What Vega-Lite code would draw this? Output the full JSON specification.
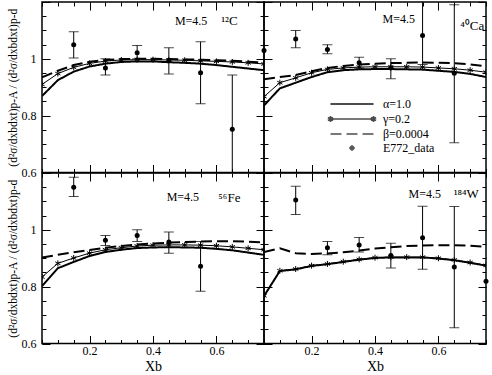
{
"$schema": "https://vega.github.io/schema/vega-lite/v6.json",
"background": "white",
"padding": {"left": 6, "top": 0, "right": 0, "bottom": 0},
"bounds": "flush",
"spacing": 0,
"columns": 2,
"resolve": {"scale": {"shape": "independent", "strokeWidth": "independent", "strokeDash": "independent"}, "legend": {"shape": "independent", "strokeWidth": "independent", "strokeDash": "independent"}},
"datasets": {
"curves": [
{"nucleus":"12C","series":"α","x":0.05,"ratio":0.869},{"nucleus":"12C","series":"α","x":0.1,"ratio":0.925},{"nucleus":"12C","series":"α","x":0.15,"ratio":0.955},{"nucleus":"12C","series":"α","x":0.2,"ratio":0.973},{"nucleus":"12C","series":"α","x":0.25,"ratio":0.983},{"nucleus":"12C","series":"α","x":0.3,"ratio":0.989},{"nucleus":"12C","series":"α","x":0.35,"ratio":0.991},{"nucleus":"12C","series":"α","x":0.4,"ratio":0.991},{"nucleus":"12C","series":"α","x":0.45,"ratio":0.988},{"nucleus":"12C","series":"α","x":0.5,"ratio":0.986},{"nucleus":"12C","series":"α","x":0.55,"ratio":0.983},{"nucleus":"12C","series":"α","x":0.6,"ratio":0.978},{"nucleus":"12C","series":"α","x":0.65,"ratio":0.972},{"nucleus":"12C","series":"α","x":0.7,"ratio":0.966},{"nucleus":"12C","series":"α","x":0.75,"ratio":0.96},
{"nucleus":"12C","series":"γ","x":0.05,"ratio":0.91},{"nucleus":"12C","series":"γ","x":0.1,"ratio":0.948},{"nucleus":"12C","series":"γ","x":0.15,"ratio":0.97},{"nucleus":"12C","series":"γ","x":0.2,"ratio":0.984},{"nucleus":"12C","series":"γ","x":0.25,"ratio":0.992},{"nucleus":"12C","series":"γ","x":0.3,"ratio":0.996},{"nucleus":"12C","series":"γ","x":0.35,"ratio":0.997},{"nucleus":"12C","series":"γ","x":0.4,"ratio":0.997},{"nucleus":"12C","series":"γ","x":0.45,"ratio":0.996},{"nucleus":"12C","series":"γ","x":0.5,"ratio":0.995},{"nucleus":"12C","series":"γ","x":0.55,"ratio":0.993},{"nucleus":"12C","series":"γ","x":0.6,"ratio":0.991},{"nucleus":"12C","series":"γ","x":0.65,"ratio":0.989},{"nucleus":"12C","series":"γ","x":0.7,"ratio":0.986},{"nucleus":"12C","series":"γ","x":0.75,"ratio":0.982},
{"nucleus":"12C","series":"β","x":0.05,"ratio":0.935},{"nucleus":"12C","series":"β","x":0.1,"ratio":0.958},{"nucleus":"12C","series":"β","x":0.15,"ratio":0.978},{"nucleus":"12C","series":"β","x":0.2,"ratio":0.99},{"nucleus":"12C","series":"β","x":0.25,"ratio":0.996},{"nucleus":"12C","series":"β","x":0.3,"ratio":0.999},{"nucleus":"12C","series":"β","x":0.35,"ratio":1.0},{"nucleus":"12C","series":"β","x":0.4,"ratio":1.0},{"nucleus":"12C","series":"β","x":0.45,"ratio":0.999},{"nucleus":"12C","series":"β","x":0.5,"ratio":0.998},{"nucleus":"12C","series":"β","x":0.55,"ratio":0.997},{"nucleus":"12C","series":"β","x":0.6,"ratio":0.995},{"nucleus":"12C","series":"β","x":0.65,"ratio":0.993},{"nucleus":"12C","series":"β","x":0.7,"ratio":0.99},{"nucleus":"12C","series":"β","x":0.75,"ratio":0.987},
{"nucleus":"40Ca","series":"α","x":0.05,"ratio":0.836},{"nucleus":"40Ca","series":"α","x":0.1,"ratio":0.896},{"nucleus":"40Ca","series":"α","x":0.15,"ratio":0.916},{"nucleus":"40Ca","series":"α","x":0.2,"ratio":0.936},{"nucleus":"40Ca","series":"α","x":0.25,"ratio":0.953},{"nucleus":"40Ca","series":"α","x":0.3,"ratio":0.96},{"nucleus":"40Ca","series":"α","x":0.35,"ratio":0.963},{"nucleus":"40Ca","series":"α","x":0.4,"ratio":0.964},{"nucleus":"40Ca","series":"α","x":0.45,"ratio":0.964},{"nucleus":"40Ca","series":"α","x":0.5,"ratio":0.963},{"nucleus":"40Ca","series":"α","x":0.55,"ratio":0.962},{"nucleus":"40Ca","series":"α","x":0.6,"ratio":0.958},{"nucleus":"40Ca","series":"α","x":0.65,"ratio":0.954},{"nucleus":"40Ca","series":"α","x":0.7,"ratio":0.947},{"nucleus":"40Ca","series":"α","x":0.75,"ratio":0.936},
{"nucleus":"40Ca","series":"γ","x":0.05,"ratio":0.867},{"nucleus":"40Ca","series":"γ","x":0.1,"ratio":0.916},{"nucleus":"40Ca","series":"γ","x":0.15,"ratio":0.933},{"nucleus":"40Ca","series":"γ","x":0.2,"ratio":0.951},{"nucleus":"40Ca","series":"γ","x":0.25,"ratio":0.963},{"nucleus":"40Ca","series":"γ","x":0.3,"ratio":0.968},{"nucleus":"40Ca","series":"γ","x":0.35,"ratio":0.971},{"nucleus":"40Ca","series":"γ","x":0.4,"ratio":0.972},{"nucleus":"40Ca","series":"γ","x":0.45,"ratio":0.972},{"nucleus":"40Ca","series":"γ","x":0.5,"ratio":0.972},{"nucleus":"40Ca","series":"γ","x":0.55,"ratio":0.971},{"nucleus":"40Ca","series":"γ","x":0.6,"ratio":0.968},{"nucleus":"40Ca","series":"γ","x":0.65,"ratio":0.965},{"nucleus":"40Ca","series":"γ","x":0.7,"ratio":0.96},{"nucleus":"40Ca","series":"γ","x":0.75,"ratio":0.953},
{"nucleus":"40Ca","series":"β","x":0.05,"ratio":0.928},{"nucleus":"40Ca","series":"β","x":0.1,"ratio":0.936},{"nucleus":"40Ca","series":"β","x":0.15,"ratio":0.943},{"nucleus":"40Ca","series":"β","x":0.2,"ratio":0.956},{"nucleus":"40Ca","series":"β","x":0.25,"ratio":0.968},{"nucleus":"40Ca","series":"β","x":0.3,"ratio":0.975},{"nucleus":"40Ca","series":"β","x":0.35,"ratio":0.98},{"nucleus":"40Ca","series":"β","x":0.4,"ratio":0.983},{"nucleus":"40Ca","series":"β","x":0.45,"ratio":0.985},{"nucleus":"40Ca","series":"β","x":0.5,"ratio":0.986},{"nucleus":"40Ca","series":"β","x":0.55,"ratio":0.987},{"nucleus":"40Ca","series":"β","x":0.6,"ratio":0.986},{"nucleus":"40Ca","series":"β","x":0.65,"ratio":0.985},{"nucleus":"40Ca","series":"β","x":0.7,"ratio":0.98},{"nucleus":"40Ca","series":"β","x":0.75,"ratio":0.974},
{"nucleus":"56Fe","series":"α","x":0.05,"ratio":0.802},{"nucleus":"56Fe","series":"α","x":0.1,"ratio":0.865},{"nucleus":"56Fe","series":"α","x":0.15,"ratio":0.887},{"nucleus":"56Fe","series":"α","x":0.2,"ratio":0.908},{"nucleus":"56Fe","series":"α","x":0.25,"ratio":0.922},{"nucleus":"56Fe","series":"α","x":0.3,"ratio":0.93},{"nucleus":"56Fe","series":"α","x":0.35,"ratio":0.936},{"nucleus":"56Fe","series":"α","x":0.4,"ratio":0.938},{"nucleus":"56Fe","series":"α","x":0.45,"ratio":0.939},{"nucleus":"56Fe","series":"α","x":0.5,"ratio":0.938},{"nucleus":"56Fe","series":"α","x":0.55,"ratio":0.937},{"nucleus":"56Fe","series":"α","x":0.6,"ratio":0.933},{"nucleus":"56Fe","series":"α","x":0.65,"ratio":0.928},{"nucleus":"56Fe","series":"α","x":0.7,"ratio":0.92},{"nucleus":"56Fe","series":"α","x":0.75,"ratio":0.912},
{"nucleus":"56Fe","series":"γ","x":0.05,"ratio":0.834},{"nucleus":"56Fe","series":"γ","x":0.1,"ratio":0.882},{"nucleus":"56Fe","series":"γ","x":0.15,"ratio":0.901},{"nucleus":"56Fe","series":"γ","x":0.2,"ratio":0.918},{"nucleus":"56Fe","series":"γ","x":0.25,"ratio":0.93},{"nucleus":"56Fe","series":"γ","x":0.3,"ratio":0.937},{"nucleus":"56Fe","series":"γ","x":0.35,"ratio":0.943},{"nucleus":"56Fe","series":"γ","x":0.4,"ratio":0.946},{"nucleus":"56Fe","series":"γ","x":0.45,"ratio":0.947},{"nucleus":"56Fe","series":"γ","x":0.5,"ratio":0.947},{"nucleus":"56Fe","series":"γ","x":0.55,"ratio":0.946},{"nucleus":"56Fe","series":"γ","x":0.6,"ratio":0.944},{"nucleus":"56Fe","series":"γ","x":0.65,"ratio":0.94},{"nucleus":"56Fe","series":"γ","x":0.7,"ratio":0.935},{"nucleus":"56Fe","series":"γ","x":0.75,"ratio":0.93},
{"nucleus":"56Fe","series":"β","x":0.05,"ratio":0.903},{"nucleus":"56Fe","series":"β","x":0.1,"ratio":0.912},{"nucleus":"56Fe","series":"β","x":0.15,"ratio":0.921},{"nucleus":"56Fe","series":"β","x":0.2,"ratio":0.929},{"nucleus":"56Fe","series":"β","x":0.25,"ratio":0.937},{"nucleus":"56Fe","series":"β","x":0.3,"ratio":0.943},{"nucleus":"56Fe","series":"β","x":0.35,"ratio":0.948},{"nucleus":"56Fe","series":"β","x":0.4,"ratio":0.952},{"nucleus":"56Fe","series":"β","x":0.45,"ratio":0.955},{"nucleus":"56Fe","series":"β","x":0.5,"ratio":0.957},{"nucleus":"56Fe","series":"β","x":0.55,"ratio":0.959},{"nucleus":"56Fe","series":"β","x":0.6,"ratio":0.96},{"nucleus":"56Fe","series":"β","x":0.65,"ratio":0.96},{"nucleus":"56Fe","series":"β","x":0.7,"ratio":0.958},{"nucleus":"56Fe","series":"β","x":0.75,"ratio":0.956},
{"nucleus":"184W","series":"α","x":0.05,"ratio":0.767},{"nucleus":"184W","series":"α","x":0.1,"ratio":0.855},{"nucleus":"184W","series":"α","x":0.15,"ratio":0.861},{"nucleus":"184W","series":"α","x":0.2,"ratio":0.873},{"nucleus":"184W","series":"α","x":0.25,"ratio":0.879},{"nucleus":"184W","series":"α","x":0.3,"ratio":0.887},{"nucleus":"184W","series":"α","x":0.35,"ratio":0.895},{"nucleus":"184W","series":"α","x":0.4,"ratio":0.901},{"nucleus":"184W","series":"α","x":0.45,"ratio":0.903},{"nucleus":"184W","series":"α","x":0.5,"ratio":0.903},{"nucleus":"184W","series":"α","x":0.55,"ratio":0.903},{"nucleus":"184W","series":"α","x":0.6,"ratio":0.899},{"nucleus":"184W","series":"α","x":0.65,"ratio":0.893},{"nucleus":"184W","series":"α","x":0.7,"ratio":0.884},{"nucleus":"184W","series":"α","x":0.75,"ratio":0.874},
{"nucleus":"184W","series":"γ","x":0.05,"ratio":0.768},{"nucleus":"184W","series":"γ","x":0.1,"ratio":0.856},{"nucleus":"184W","series":"γ","x":0.15,"ratio":0.862},{"nucleus":"184W","series":"γ","x":0.2,"ratio":0.874},{"nucleus":"184W","series":"γ","x":0.25,"ratio":0.88},{"nucleus":"184W","series":"γ","x":0.3,"ratio":0.888},{"nucleus":"184W","series":"γ","x":0.35,"ratio":0.896},{"nucleus":"184W","series":"γ","x":0.4,"ratio":0.902},{"nucleus":"184W","series":"γ","x":0.45,"ratio":0.904},{"nucleus":"184W","series":"γ","x":0.5,"ratio":0.904},{"nucleus":"184W","series":"γ","x":0.55,"ratio":0.904},{"nucleus":"184W","series":"γ","x":0.6,"ratio":0.9},{"nucleus":"184W","series":"γ","x":0.65,"ratio":0.894},{"nucleus":"184W","series":"γ","x":0.7,"ratio":0.885},{"nucleus":"184W","series":"γ","x":0.75,"ratio":0.875},
{"nucleus":"184W","series":"β","x":0.05,"ratio":0.922},{"nucleus":"184W","series":"β","x":0.1,"ratio":0.935},{"nucleus":"184W","series":"β","x":0.15,"ratio":0.918},{"nucleus":"184W","series":"β","x":0.2,"ratio":0.915},{"nucleus":"184W","series":"β","x":0.25,"ratio":0.917},{"nucleus":"184W","series":"β","x":0.3,"ratio":0.921},{"nucleus":"184W","series":"β","x":0.35,"ratio":0.927},{"nucleus":"184W","series":"β","x":0.4,"ratio":0.934},{"nucleus":"184W","series":"β","x":0.45,"ratio":0.939},{"nucleus":"184W","series":"β","x":0.5,"ratio":0.943},{"nucleus":"184W","series":"β","x":0.55,"ratio":0.945},{"nucleus":"184W","series":"β","x":0.6,"ratio":0.946},{"nucleus":"184W","series":"β","x":0.65,"ratio":0.946},{"nucleus":"184W","series":"β","x":0.7,"ratio":0.944},{"nucleus":"184W","series":"β","x":0.75,"ratio":0.94}
],
"e772": [
{"nucleus":"12C","x":0.15,"ratio":1.05,"lo":1.003,"hi":1.095},
{"nucleus":"12C","x":0.25,"ratio":0.968,"lo":0.943,"hi":1.0},
{"nucleus":"12C","x":0.35,"ratio":1.021,"lo":1.0,"hi":1.047},
{"nucleus":"12C","x":0.45,"ratio":0.994,"lo":0.947,"hi":1.039},
{"nucleus":"12C","x":0.55,"ratio":0.951,"lo":0.842,"hi":1.06},
{"nucleus":"12C","x":0.65,"ratio":0.752,"lo":0.5,"hi":0.943},
{"nucleus":"12C","x":0.75,"ratio":1.029,"lo":null,"hi":null},
{"nucleus":"40Ca","x":0.15,"ratio":1.07,"lo":1.039,"hi":1.1},
{"nucleus":"40Ca","x":0.25,"ratio":1.033,"lo":1.018,"hi":1.05},
{"nucleus":"40Ca","x":0.35,"ratio":0.986,"lo":0.968,"hi":1.006},
{"nucleus":"40Ca","x":0.45,"ratio":0.968,"lo":0.93,"hi":1.0},
{"nucleus":"40Ca","x":0.55,"ratio":1.082,"lo":0.98,"hi":1.25},
{"nucleus":"40Ca","x":0.65,"ratio":0.949,"lo":0.705,"hi":1.19},
{"nucleus":"56Fe","x":0.15,"ratio":1.15,"lo":1.117,"hi":1.185},
{"nucleus":"56Fe","x":0.25,"ratio":0.963,"lo":0.945,"hi":0.98},
{"nucleus":"56Fe","x":0.35,"ratio":0.98,"lo":0.959,"hi":1.0},
{"nucleus":"56Fe","x":0.45,"ratio":0.957,"lo":0.918,"hi":0.992},
{"nucleus":"56Fe","x":0.55,"ratio":0.872,"lo":0.784,"hi":0.959},
{"nucleus":"184W","x":0.15,"ratio":1.105,"lo":1.054,"hi":1.153},
{"nucleus":"184W","x":0.25,"ratio":0.937,"lo":0.912,"hi":0.959},
{"nucleus":"184W","x":0.35,"ratio":0.947,"lo":0.922,"hi":0.973},
{"nucleus":"184W","x":0.45,"ratio":0.91,"lo":0.866,"hi":0.953},
{"nucleus":"184W","x":0.55,"ratio":0.972,"lo":0.861,"hi":1.083},
{"nucleus":"184W","x":0.65,"ratio":0.869,"lo":0.655,"hi":1.082},
{"nucleus":"184W","x":0.75,"ratio":0.819,"lo":null,"hi":null}
]
},
"concat": [
{
"width": 222, "height": 170.5,
"resolve": {"axis": {"x": "independent", "y": "independent"}},
"layer": [
{"data": {"name": "curves"}, "transform": [{"filter": "datum.nucleus == '12C' && datum.series != 'γ'"}],
 "mark": {"type": "line", "color": "black", "strokeWidth": 2, "clip": true},
 "encoding": {
  "x": {"field": "x", "type": "quantitative", "scale": {"domain": [0.05, 0.75], "nice": false, "zero": false}, "axis": null},
  "y": {"field": "ratio", "type": "quantitative", "scale": {"domain": [0.6, 1.2], "nice": false, "zero": false}, "axis": {"orient": "left", "values": [0.6, 0.8, 1.0], "ticks": false, "domain": false, "grid": false, "labelPadding": 6, "labelExpr": "datum.value == 1 ? '1' : format(datum.value, '.1f')", "title": "(d²σ/dxbdxt)p-A / (d²σ/dxbdxt)p-d", "titleFontSize": 11.5, "titlePadding": 3}},
  "strokeDash": {"field": "series", "type": "nominal", "scale": {"domain": ["α", "β"], "range": [[1, 0], [11, 5]]}, "legend": null}
 }},
{"data": {"name": "curves"}, "transform": [{"filter": "datum.nucleus == '12C' && datum.series == 'γ'"}],
 "mark": {"type": "line", "color": "black", "strokeWidth": 1, "clip": true, "point": {"shape": "M0,-1V1M-0.87,-0.5L0.87,0.5M-0.87,0.5L0.87,-0.5", "filled": false, "size": 36, "color": "black", "strokeWidth": 1}},
 "encoding": {
  "x": {"field": "x", "type": "quantitative", "scale": {"domain": [0.05, 0.75], "nice": false, "zero": false}, "axis": {"orient": "bottom", "values": [0.05,0.1,0.15,0.2,0.25,0.3,0.35,0.4,0.45,0.5,0.55,0.6,0.65,0.7,0.75], "labels": false, "domain": false, "grid": false, "tickSize": -4, "tickWidth": 1, "tickColor": "black", "title": null}},
  "y": {"field": "ratio", "type": "quantitative", "scale": {"domain": [0.6, 1.2], "nice": false, "zero": false}, "axis": {"orient": "left", "values": [0.6,0.65,0.7,0.75,0.8,0.85,0.9,0.95,1.0,1.05,1.1,1.15,1.2], "labels": false, "domain": false, "grid": false, "tickSize": -4, "tickWidth": 1, "tickColor": "black", "title": null}}
 }},
{"data": {"name": "e772"}, "transform": [{"filter": "datum.nucleus == '12C'"}],
 "mark": {"type": "rule", "color": "black", "strokeWidth": 1, "clip": true},
 "encoding": {
  "x": {"field": "x", "type": "quantitative", "scale": {"domain": [0.05, 0.75], "nice": false, "zero": false}, "axis": {"orient": "bottom", "values": [0.2, 0.4, 0.6], "labels": false, "domain": false, "grid": false, "tickSize": -8, "tickWidth": 1, "tickColor": "black", "title": null}},
  "y": {"field": "lo", "type": "quantitative", "scale": {"domain": [0.6, 1.2], "nice": false, "zero": false}, "axis": {"orient": "left", "values": [0.6, 0.8, 1.0, 1.2], "labels": false, "domain": false, "grid": false, "tickSize": -8, "tickWidth": 1, "tickColor": "black", "title": null}},
  "y2": {"field": "hi"}
 }},
{"data": {"name": "e772"}, "transform": [{"filter": "datum.nucleus == '12C'"}],
 "mark": {"type": "tick", "orient": "horizontal", "color": "black", "size": 10, "thickness": 1, "clip": true},
 "encoding": {
  "x": {"field": "x", "type": "quantitative", "scale": {"domain": [0.05, 0.75], "nice": false, "zero": false}, "axis": {"orient": "top", "values": [0.05,0.1,0.15,0.2,0.25,0.3,0.35,0.4,0.45,0.5,0.55,0.6,0.65,0.7,0.75], "labels": false, "domain": false, "grid": false, "tickSize": -4, "tickWidth": 1, "tickColor": "black", "title": null}},
  "y": {"field": "lo", "type": "quantitative", "scale": {"domain": [0.6, 1.2], "nice": false, "zero": false}, "axis": {"orient": "right", "values": [0.6,0.65,0.7,0.75,0.8,0.85,0.9,0.95,1.0,1.05,1.1,1.15,1.2], "labels": false, "domain": false, "grid": false, "tickSize": -4, "tickWidth": 1, "tickColor": "black", "title": null}}
 }},
{"data": {"name": "e772"}, "transform": [{"filter": "datum.nucleus == '12C'"}],
 "mark": {"type": "tick", "orient": "horizontal", "color": "black", "size": 10, "thickness": 1, "clip": true},
 "encoding": {
  "x": {"field": "x", "type": "quantitative", "scale": {"domain": [0.05, 0.75], "nice": false, "zero": false}, "axis": {"orient": "top", "values": [0.2, 0.4, 0.6], "labels": false, "domain": false, "grid": false, "tickSize": -8, "tickWidth": 1, "tickColor": "black", "title": null}},
  "y": {"field": "hi", "type": "quantitative", "scale": {"domain": [0.6, 1.2], "nice": false, "zero": false}, "axis": {"orient": "right", "values": [0.6, 0.8, 1.0, 1.2], "labels": false, "domain": false, "grid": false, "tickSize": -8, "tickWidth": 1, "tickColor": "black", "title": null}}
 }},
{"data": {"name": "e772"}, "transform": [{"filter": "datum.nucleus == '12C'"}],
 "mark": {"type": "point", "shape": "circle", "filled": true, "color": "black", "size": 25, "opacity": 1},
 "encoding": {
  "x": {"field": "x", "type": "quantitative", "scale": {"domain": [0.05, 0.75], "nice": false, "zero": false}, "axis": null},
  "y": {"field": "ratio", "type": "quantitative", "scale": {"domain": [0.6, 1.2], "nice": false, "zero": false}, "axis": null}
 }},
{"data": {"values": [{}]},
 "mark": {"type": "text", "align": "left", "baseline": "alphabetic", "fontSize": 12, "font": "Liberation Serif", "color": "black"},
 "encoding": {
  "x": {"datum": 0.469, "type": "quantitative", "scale": {"domain": [0.05, 0.75], "nice": false, "zero": false}, "axis": null},
  "y": {"datum": 1.12, "type": "quantitative", "scale": {"domain": [0.6, 1.2], "nice": false, "zero": false}, "axis": null},
  "text": {"value": "M=4.5"}
 }},
{"data": {"values": [{}]},
 "mark": {"type": "text", "align": "left", "baseline": "alphabetic", "fontSize": 13, "font": "Liberation Serif", "color": "black"},
 "encoding": {
  "x": {"datum": 0.615, "type": "quantitative", "scale": {"domain": [0.05, 0.75], "nice": false, "zero": false}, "axis": null},
  "y": {"datum": 1.12, "type": "quantitative", "scale": {"domain": [0.6, 1.2], "nice": false, "zero": false}, "axis": null},
  "text": {"value": "¹²C"}
 }}
]
},
{
"width": 222, "height": 170.5,
"resolve": {"axis": {"x": "independent", "y": "independent"}},
"layer": [
{"data": {"name": "curves"}, "transform": [{"filter": "datum.nucleus == '40Ca' && datum.series != 'γ'"}],
 "mark": {"type": "line", "color": "black", "strokeWidth": 2, "clip": true},
 "encoding": {
  "x": {"field": "x", "type": "quantitative", "scale": {"domain": [0.05, 0.75], "nice": false, "zero": false}, "axis": null},
  "y": {"field": "ratio", "type": "quantitative", "scale": {"domain": [0.6, 1.2], "nice": false, "zero": false}, "axis": null},
  "strokeDash": {"field": "series", "type": "nominal", "scale": {"domain": ["α", "β"], "range": [[1, 0], [11, 5]]}, "legend": null}
 }},
{"data": {"name": "curves"}, "transform": [{"filter": "datum.nucleus == '40Ca' && datum.series == 'γ'"}],
 "mark": {"type": "line", "color": "black", "strokeWidth": 1, "clip": true, "point": {"shape": "M0,-1V1M-0.87,-0.5L0.87,0.5M-0.87,0.5L0.87,-0.5", "filled": false, "size": 36, "color": "black", "strokeWidth": 1}},
 "encoding": {
  "x": {"field": "x", "type": "quantitative", "scale": {"domain": [0.05, 0.75], "nice": false, "zero": false}, "axis": {"orient": "bottom", "values": [0.05,0.1,0.15,0.2,0.25,0.3,0.35,0.4,0.45,0.5,0.55,0.6,0.65,0.7,0.75], "labels": false, "domain": false, "grid": false, "tickSize": -4, "tickWidth": 1, "tickColor": "black", "title": null}},
  "y": {"field": "ratio", "type": "quantitative", "scale": {"domain": [0.6, 1.2], "nice": false, "zero": false}, "axis": {"orient": "left", "values": [0.6,0.65,0.7,0.75,0.8,0.85,0.9,0.95,1.0,1.05,1.1,1.15,1.2], "labels": false, "domain": false, "grid": false, "tickSize": -4, "tickWidth": 1, "tickColor": "black", "title": null}}
 }},
{"data": {"name": "e772"}, "transform": [{"filter": "datum.nucleus == '40Ca'"}],
 "mark": {"type": "rule", "color": "black", "strokeWidth": 1, "clip": true},
 "encoding": {
  "x": {"field": "x", "type": "quantitative", "scale": {"domain": [0.05, 0.75], "nice": false, "zero": false}, "axis": {"orient": "bottom", "values": [0.2, 0.4, 0.6], "labels": false, "domain": false, "grid": false, "tickSize": -8, "tickWidth": 1, "tickColor": "black", "title": null}},
  "y": {"field": "lo", "type": "quantitative", "scale": {"domain": [0.6, 1.2], "nice": false, "zero": false}, "axis": {"orient": "left", "values": [0.6, 0.8, 1.0, 1.2], "labels": false, "domain": false, "grid": false, "tickSize": -8, "tickWidth": 1, "tickColor": "black", "title": null}},
  "y2": {"field": "hi"}
 }},
{"data": {"name": "e772"}, "transform": [{"filter": "datum.nucleus == '40Ca'"}],
 "mark": {"type": "tick", "orient": "horizontal", "color": "black", "size": 10, "thickness": 1, "clip": true},
 "encoding": {
  "x": {"field": "x", "type": "quantitative", "scale": {"domain": [0.05, 0.75], "nice": false, "zero": false}, "axis": {"orient": "top", "values": [0.05,0.1,0.15,0.2,0.25,0.3,0.35,0.4,0.45,0.5,0.55,0.6,0.65,0.7,0.75], "labels": false, "domain": false, "grid": false, "tickSize": -4, "tickWidth": 1, "tickColor": "black", "title": null}},
  "y": {"field": "lo", "type": "quantitative", "scale": {"domain": [0.6, 1.2], "nice": false, "zero": false}, "axis": {"orient": "right", "values": [0.6,0.65,0.7,0.75,0.8,0.85,0.9,0.95,1.0,1.05,1.1,1.15,1.2], "labels": false, "domain": false, "grid": false, "tickSize": -4, "tickWidth": 1, "tickColor": "black", "title": null}}
 }},
{"data": {"name": "e772"}, "transform": [{"filter": "datum.nucleus == '40Ca'"}],
 "mark": {"type": "tick", "orient": "horizontal", "color": "black", "size": 10, "thickness": 1, "clip": true},
 "encoding": {
  "x": {"field": "x", "type": "quantitative", "scale": {"domain": [0.05, 0.75], "nice": false, "zero": false}, "axis": {"orient": "top", "values": [0.2, 0.4, 0.6], "labels": false, "domain": false, "grid": false, "tickSize": -8, "tickWidth": 1, "tickColor": "black", "title": null}},
  "y": {"field": "hi", "type": "quantitative", "scale": {"domain": [0.6, 1.2], "nice": false, "zero": false}, "axis": {"orient": "right", "values": [0.6, 0.8, 1.0, 1.2], "labels": false, "domain": false, "grid": false, "tickSize": -8, "tickWidth": 1, "tickColor": "black", "title": null}}
 }},
{"data": {"name": "e772"}, "transform": [{"filter": "datum.nucleus == '40Ca'"}],
 "mark": {"type": "point", "shape": "circle", "filled": true, "color": "black", "size": 25, "opacity": 1},
 "encoding": {
  "x": {"field": "x", "type": "quantitative", "scale": {"domain": [0.05, 0.75], "nice": false, "zero": false}, "axis": null},
  "y": {"field": "ratio", "type": "quantitative", "scale": {"domain": [0.6, 1.2], "nice": false, "zero": false}, "axis": null}
 }},
{"data": {"values": [{}]},
 "mark": {"type": "text", "align": "left", "baseline": "alphabetic", "fontSize": 12, "font": "Liberation Serif", "color": "black"},
 "encoding": {
  "x": {"datum": 0.424, "type": "quantitative", "scale": {"domain": [0.05, 0.75], "nice": false, "zero": false}, "axis": null},
  "y": {"datum": 1.125, "type": "quantitative", "scale": {"domain": [0.6, 1.2], "nice": false, "zero": false}, "axis": null},
  "text": {"value": "M=4.5"}
 }},
{"data": {"values": [{}]},
 "mark": {"type": "text", "align": "left", "baseline": "alphabetic", "fontSize": 13, "font": "Liberation Serif", "color": "black"},
 "encoding": {
  "x": {"datum": 0.669, "type": "quantitative", "scale": {"domain": [0.05, 0.75], "nice": false, "zero": false}, "axis": null},
  "y": {"datum": 1.1, "type": "quantitative", "scale": {"domain": [0.6, 1.2], "nice": false, "zero": false}, "axis": null},
  "text": {"value": "⁴⁰Ca"}
 }},
{"data": {"name": "curves"}, "transform": [{"filter": "false"}],
 "mark": {"type": "point", "filled": false, "color": "black", "strokeWidth": 2},
 "encoding": {
  "x": {"field": "x", "type": "quantitative", "scale": {"domain": [0.05, 0.75], "nice": false, "zero": false}, "axis": null},
  "y": {"field": "ratio", "type": "quantitative", "scale": {"domain": [0.6, 1.2], "nice": false, "zero": false}, "axis": null},
  "shape": {"field": "series", "type": "nominal",
   "scale": {"domain": ["α=1.0", "γ=0.2", "β=0.0004", "E772_data"],
     "range": ["M-4.3,0H4.3", "M-4.3,0H4.3M-4.3,-0.6V0.6M-4.82,-0.3L-3.78,0.3M-4.82,0.3L-3.78,-0.3M4.3,-0.6V0.6M3.78,-0.3L4.82,0.3M3.78,0.3L4.82,-0.3", "M-4.3,0H-2.1M-1.1,0H1.1M2.1,0H4.3", "M-0.45,0A0.45,0.45,0,1,1,0.45,0A0.45,0.45,0,1,1,-0.45,0M-0.35,0A0.35,0.35,0,1,1,0.35,0A0.35,0.35,0,1,1,-0.35,0M-0.25,0A0.25,0.25,0,1,1,0.25,0A0.25,0.25,0,1,1,-0.25,0M-0.15,0A0.15,0.15,0,1,1,0.15,0A0.15,0.15,0,1,1,-0.15,0M-0.07,0H0.07"]},
   "legend": {"orient": "none", "legendX": 82, "legendY": 96, "title": null, "symbolSize": 100, "symbolStrokeColor": "black", "symbolStrokeWidth": 2, "labelFont": "Liberation Serif", "labelFontSize": 12, "labelColor": "black", "labelOffset": 25, "rowPadding": 2, "padding": 0}},
  "strokeWidth": {"field": "series", "type": "nominal",
   "scale": {"domain": ["α=1.0", "γ=0.2", "β=0.0004", "E772_data"], "range": [2, 1, 2, 2]}}
 }}
]
},
{
"width": 222, "height": 170.5,
"resolve": {"axis": {"x": "independent", "y": "independent"}},
"layer": [
{"data": {"name": "curves"}, "transform": [{"filter": "datum.nucleus == '56Fe' && datum.series != 'γ'"}],
 "mark": {"type": "line", "color": "black", "strokeWidth": 2, "clip": true},
 "encoding": {
  "x": {"field": "x", "type": "quantitative", "scale": {"domain": [0.05, 0.75], "nice": false, "zero": false}, "axis": {"orient": "bottom", "values": [0.2, 0.4, 0.6], "ticks": false, "domain": false, "grid": false, "labelPadding": 2, "format": ".1f", "title": "Xb", "titleFontSize": 14, "titlePadding": 3}},
  "y": {"field": "ratio", "type": "quantitative", "scale": {"domain": [0.6, 1.2], "nice": false, "zero": false}, "axis": {"orient": "left", "values": [0.6, 0.8, 1.0], "ticks": false, "domain": false, "grid": false, "labelPadding": 6, "labelExpr": "datum.value == 1 ? '1' : format(datum.value, '.1f')", "title": "(d²σ/dxbdxt)p-A / (d²σ/dxbdxt)p-d", "titleFontSize": 11.5, "titlePadding": 3}},
  "strokeDash": {"field": "series", "type": "nominal", "scale": {"domain": ["α", "β"], "range": [[1, 0], [11, 5]]}, "legend": null}
 }},
{"data": {"name": "curves"}, "transform": [{"filter": "datum.nucleus == '56Fe' && datum.series == 'γ'"}],
 "mark": {"type": "line", "color": "black", "strokeWidth": 1, "clip": true, "point": {"shape": "M0,-1V1M-0.87,-0.5L0.87,0.5M-0.87,0.5L0.87,-0.5", "filled": false, "size": 36, "color": "black", "strokeWidth": 1}},
 "encoding": {
  "x": {"field": "x", "type": "quantitative", "scale": {"domain": [0.05, 0.75], "nice": false, "zero": false}, "axis": {"orient": "bottom", "values": [0.05,0.1,0.15,0.2,0.25,0.3,0.35,0.4,0.45,0.5,0.55,0.6,0.65,0.7,0.75], "labels": false, "domain": false, "grid": false, "tickSize": -4, "tickWidth": 1, "tickColor": "black", "title": null}},
  "y": {"field": "ratio", "type": "quantitative", "scale": {"domain": [0.6, 1.2], "nice": false, "zero": false}, "axis": {"orient": "left", "values": [0.6,0.65,0.7,0.75,0.8,0.85,0.9,0.95,1.0,1.05,1.1,1.15,1.2], "labels": false, "domain": false, "grid": false, "tickSize": -4, "tickWidth": 1, "tickColor": "black", "title": null}}
 }},
{"data": {"name": "e772"}, "transform": [{"filter": "datum.nucleus == '56Fe'"}],
 "mark": {"type": "rule", "color": "black", "strokeWidth": 1, "clip": true},
 "encoding": {
  "x": {"field": "x", "type": "quantitative", "scale": {"domain": [0.05, 0.75], "nice": false, "zero": false}, "axis": {"orient": "bottom", "values": [0.2, 0.4, 0.6], "labels": false, "domain": false, "grid": false, "tickSize": -8, "tickWidth": 1, "tickColor": "black", "title": null}},
  "y": {"field": "lo", "type": "quantitative", "scale": {"domain": [0.6, 1.2], "nice": false, "zero": false}, "axis": {"orient": "left", "values": [0.6, 0.8, 1.0, 1.2], "labels": false, "domain": false, "grid": false, "tickSize": -8, "tickWidth": 1, "tickColor": "black", "title": null}},
  "y2": {"field": "hi"}
 }},
{"data": {"name": "e772"}, "transform": [{"filter": "datum.nucleus == '56Fe'"}],
 "mark": {"type": "tick", "orient": "horizontal", "color": "black", "size": 10, "thickness": 1, "clip": true},
 "encoding": {
  "x": {"field": "x", "type": "quantitative", "scale": {"domain": [0.05, 0.75], "nice": false, "zero": false}, "axis": {"orient": "top", "values": [0.05,0.1,0.15,0.2,0.25,0.3,0.35,0.4,0.45,0.5,0.55,0.6,0.65,0.7,0.75], "labels": false, "domain": false, "grid": false, "tickSize": -4, "tickWidth": 1, "tickColor": "black", "title": null}},
  "y": {"field": "lo", "type": "quantitative", "scale": {"domain": [0.6, 1.2], "nice": false, "zero": false}, "axis": {"orient": "right", "values": [0.6,0.65,0.7,0.75,0.8,0.85,0.9,0.95,1.0,1.05,1.1,1.15,1.2], "labels": false, "domain": false, "grid": false, "tickSize": -4, "tickWidth": 1, "tickColor": "black", "title": null}}
 }},
{"data": {"name": "e772"}, "transform": [{"filter": "datum.nucleus == '56Fe'"}],
 "mark": {"type": "tick", "orient": "horizontal", "color": "black", "size": 10, "thickness": 1, "clip": true},
 "encoding": {
  "x": {"field": "x", "type": "quantitative", "scale": {"domain": [0.05, 0.75], "nice": false, "zero": false}, "axis": {"orient": "top", "values": [0.2, 0.4, 0.6], "labels": false, "domain": false, "grid": false, "tickSize": -8, "tickWidth": 1, "tickColor": "black", "title": null}},
  "y": {"field": "hi", "type": "quantitative", "scale": {"domain": [0.6, 1.2], "nice": false, "zero": false}, "axis": {"orient": "right", "values": [0.6, 0.8, 1.0, 1.2], "labels": false, "domain": false, "grid": false, "tickSize": -8, "tickWidth": 1, "tickColor": "black", "title": null}}
 }},
{"data": {"name": "e772"}, "transform": [{"filter": "datum.nucleus == '56Fe'"}],
 "mark": {"type": "point", "shape": "circle", "filled": true, "color": "black", "size": 25, "opacity": 1},
 "encoding": {
  "x": {"field": "x", "type": "quantitative", "scale": {"domain": [0.05, 0.75], "nice": false, "zero": false}, "axis": null},
  "y": {"field": "ratio", "type": "quantitative", "scale": {"domain": [0.6, 1.2], "nice": false, "zero": false}, "axis": null}
 }},
{"data": {"values": [{}]},
 "mark": {"type": "text", "align": "left", "baseline": "alphabetic", "fontSize": 12, "font": "Liberation Serif", "color": "black"},
 "encoding": {
  "x": {"datum": 0.443, "type": "quantitative", "scale": {"domain": [0.05, 0.75], "nice": false, "zero": false}, "axis": null},
  "y": {"datum": 1.103, "type": "quantitative", "scale": {"domain": [0.6, 1.2], "nice": false, "zero": false}, "axis": null},
  "text": {"value": "M=4.5"}
 }},
{"data": {"values": [{}]},
 "mark": {"type": "text", "align": "left", "baseline": "alphabetic", "fontSize": 13, "font": "Liberation Serif", "color": "black"},
 "encoding": {
  "x": {"datum": 0.606, "type": "quantitative", "scale": {"domain": [0.05, 0.75], "nice": false, "zero": false}, "axis": null},
  "y": {"datum": 1.097, "type": "quantitative", "scale": {"domain": [0.6, 1.2], "nice": false, "zero": false}, "axis": null},
  "text": {"value": "⁵⁶Fe"}
 }}
]
},
{
"width": 222, "height": 170.5,
"resolve": {"axis": {"x": "independent", "y": "independent"}},
"layer": [
{"data": {"name": "curves"}, "transform": [{"filter": "datum.nucleus == '184W' && datum.series != 'γ'"}],
 "mark": {"type": "line", "color": "black", "strokeWidth": 2, "clip": true},
 "encoding": {
  "x": {"field": "x", "type": "quantitative", "scale": {"domain": [0.05, 0.75], "nice": false, "zero": false}, "axis": {"orient": "bottom", "values": [0.2, 0.4, 0.6], "ticks": false, "domain": false, "grid": false, "labelPadding": 2, "format": ".1f", "title": "Xb", "titleFontSize": 14, "titlePadding": 3}},
  "y": {"field": "ratio", "type": "quantitative", "scale": {"domain": [0.6, 1.2], "nice": false, "zero": false}, "axis": null},
  "strokeDash": {"field": "series", "type": "nominal", "scale": {"domain": ["α", "β"], "range": [[1, 0], [11, 5]]}, "legend": null}
 }},
{"data": {"name": "curves"}, "transform": [{"filter": "datum.nucleus == '184W' && datum.series == 'γ'"}],
 "mark": {"type": "line", "color": "black", "strokeWidth": 1, "clip": true, "point": {"shape": "M0,-1V1M-0.87,-0.5L0.87,0.5M-0.87,0.5L0.87,-0.5", "filled": false, "size": 36, "color": "black", "strokeWidth": 1}},
 "encoding": {
  "x": {"field": "x", "type": "quantitative", "scale": {"domain": [0.05, 0.75], "nice": false, "zero": false}, "axis": {"orient": "bottom", "values": [0.05,0.1,0.15,0.2,0.25,0.3,0.35,0.4,0.45,0.5,0.55,0.6,0.65,0.7,0.75], "labels": false, "domain": false, "grid": false, "tickSize": -4, "tickWidth": 1, "tickColor": "black", "title": null}},
  "y": {"field": "ratio", "type": "quantitative", "scale": {"domain": [0.6, 1.2], "nice": false, "zero": false}, "axis": {"orient": "left", "values": [0.6,0.65,0.7,0.75,0.8,0.85,0.9,0.95,1.0,1.05,1.1,1.15,1.2], "labels": false, "domain": false, "grid": false, "tickSize": -4, "tickWidth": 1, "tickColor": "black", "title": null}}
 }},
{"data": {"name": "e772"}, "transform": [{"filter": "datum.nucleus == '184W'"}],
 "mark": {"type": "rule", "color": "black", "strokeWidth": 1, "clip": true},
 "encoding": {
  "x": {"field": "x", "type": "quantitative", "scale": {"domain": [0.05, 0.75], "nice": false, "zero": false}, "axis": {"orient": "bottom", "values": [0.2, 0.4, 0.6], "labels": false, "domain": false, "grid": false, "tickSize": -8, "tickWidth": 1, "tickColor": "black", "title": null}},
  "y": {"field": "lo", "type": "quantitative", "scale": {"domain": [0.6, 1.2], "nice": false, "zero": false}, "axis": {"orient": "left", "values": [0.6, 0.8, 1.0, 1.2], "labels": false, "domain": false, "grid": false, "tickSize": -8, "tickWidth": 1, "tickColor": "black", "title": null}},
  "y2": {"field": "hi"}
 }},
{"data": {"name": "e772"}, "transform": [{"filter": "datum.nucleus == '184W'"}],
 "mark": {"type": "tick", "orient": "horizontal", "color": "black", "size": 10, "thickness": 1, "clip": true},
 "encoding": {
  "x": {"field": "x", "type": "quantitative", "scale": {"domain": [0.05, 0.75], "nice": false, "zero": false}, "axis": {"orient": "top", "values": [0.05,0.1,0.15,0.2,0.25,0.3,0.35,0.4,0.45,0.5,0.55,0.6,0.65,0.7,0.75], "labels": false, "domain": false, "grid": false, "tickSize": -4, "tickWidth": 1, "tickColor": "black", "title": null}},
  "y": {"field": "lo", "type": "quantitative", "scale": {"domain": [0.6, 1.2], "nice": false, "zero": false}, "axis": {"orient": "right", "values": [0.6,0.65,0.7,0.75,0.8,0.85,0.9,0.95,1.0,1.05,1.1,1.15,1.2], "labels": false, "domain": false, "grid": false, "tickSize": -4, "tickWidth": 1, "tickColor": "black", "title": null}}
 }},
{"data": {"name": "e772"}, "transform": [{"filter": "datum.nucleus == '184W'"}],
 "mark": {"type": "tick", "orient": "horizontal", "color": "black", "size": 10, "thickness": 1, "clip": true},
 "encoding": {
  "x": {"field": "x", "type": "quantitative", "scale": {"domain": [0.05, 0.75], "nice": false, "zero": false}, "axis": {"orient": "top", "values": [0.2, 0.4, 0.6], "labels": false, "domain": false, "grid": false, "tickSize": -8, "tickWidth": 1, "tickColor": "black", "title": null}},
  "y": {"field": "hi", "type": "quantitative", "scale": {"domain": [0.6, 1.2], "nice": false, "zero": false}, "axis": {"orient": "right", "values": [0.6, 0.8, 1.0, 1.2], "labels": false, "domain": false, "grid": false, "tickSize": -8, "tickWidth": 1, "tickColor": "black", "title": null}}
 }},
{"data": {"name": "e772"}, "transform": [{"filter": "datum.nucleus == '184W'"}],
 "mark": {"type": "point", "shape": "circle", "filled": true, "color": "black", "size": 25, "opacity": 1},
 "encoding": {
  "x": {"field": "x", "type": "quantitative", "scale": {"domain": [0.05, 0.75], "nice": false, "zero": false}, "axis": null},
  "y": {"field": "ratio", "type": "quantitative", "scale": {"domain": [0.6, 1.2], "nice": false, "zero": false}, "axis": null}
 }},
{"data": {"values": [{}]},
 "mark": {"type": "text", "align": "left", "baseline": "alphabetic", "fontSize": 12, "font": "Liberation Serif", "color": "black"},
 "encoding": {
  "x": {"datum": 0.506, "type": "quantitative", "scale": {"domain": [0.05, 0.75], "nice": false, "zero": false}, "axis": null},
  "y": {"datum": 1.112, "type": "quantitative", "scale": {"domain": [0.6, 1.2], "nice": false, "zero": false}, "axis": null},
  "text": {"value": "M=4.5"}
 }},
{"data": {"values": [{}]},
 "mark": {"type": "text", "align": "left", "baseline": "alphabetic", "fontSize": 13, "font": "Liberation Serif", "color": "black"},
 "encoding": {
  "x": {"datum": 0.648, "type": "quantitative", "scale": {"domain": [0.05, 0.75], "nice": false, "zero": false}, "axis": null},
  "y": {"datum": 1.112, "type": "quantitative", "scale": {"domain": [0.6, 1.2], "nice": false, "zero": false}, "axis": null},
  "text": {"value": "¹⁸⁴W"}
 }}
]
}
],
"config": {
 "view": {"stroke": "black", "strokeWidth": 1.5},
 "font": "Liberation Serif",
 "axis": {"labelFont": "Liberation Serif", "labelFontSize": 12, "labelColor": "black", "titleFont": "Liberation Serif", "titleFontWeight": "normal", "titleColor": "black", "grid": false},
 "legend": {"labelFont": "Liberation Serif"}
}
}
